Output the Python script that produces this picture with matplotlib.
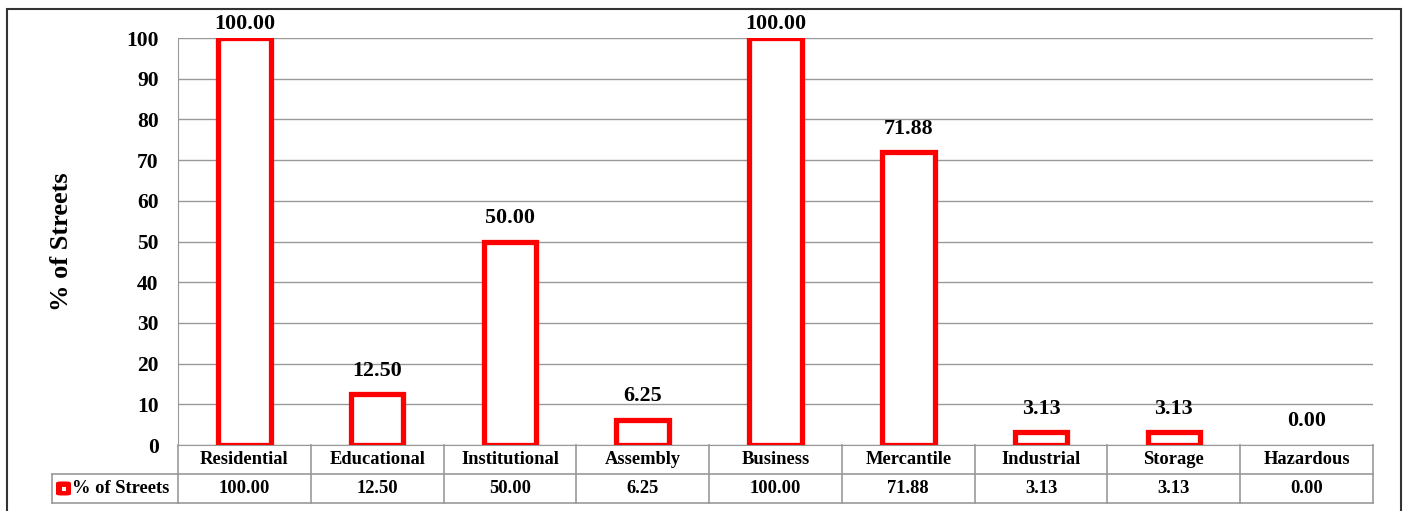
import matplotlib.pyplot as plt
from matplotlib.patches import Rectangle, FancyBboxPatch
from matplotlib.lines import Line2D
import numpy as np

categories = ['Residential', 'Educational', 'Institutional', 'Assembly', 'Business',
              'Mercantile', 'Industrial', 'Storage', 'Hazardous']
pct_streets = [100.00, 12.50, 50.00, 6.25, 100.00, 71.88, 3.13, 3.13, 0.00]
series_name = '% of Streets'
yticks = [0, 10, 20, 30, 40, 50, 60, 70, 80, 90, 100]

plt.rcParams['font.family'] = ['Liberation Serif', 'DejaVu Serif']
plt.rcParams['font.weight'] = 'bold'

W, H = 1405, 511
fig = plt.figure(figsize=(W / 100, H / 100), dpi=100)

# outer frame
fig.add_artist(Rectangle((7 / W, -0.05), (1401 - 7) / W, 1.05 - 9 / H, transform=fig.transFigure,
                         fill=False, edgecolor='#333333', lw=1.5))

x0, x1, y0, y1 = 178, 1373, 445, 38
ax = fig.add_axes([x0 / W, 1 - y0 / H, (x1 - x0) / W, (y0 - y1) / H])

n = len(categories)
x = np.arange(n)
edges = ['#ff0000' if v > 0 else 'none' for v in pct_streets]
ax.bar(x, pct_streets, width=0.395, facecolor='white', edgecolor=edges, lw=3.8, zorder=3)
for xi, v in zip(x, pct_streets):
    off = 10 if v >= 100 else 17
    ax.annotate(f'{v:.2f}', (xi, v), xytext=(0, off), textcoords='offset points',
                ha='center', va='center', fontsize=15.8, fontweight='bold')

ax.set_xlim(-0.5, n - 0.5)
ax.set_ylim(0, 100)
ax.set_yticks(yticks)
ax.set_yticklabels([str(t) for t in yticks], fontsize=15.5, fontweight='bold')
ax.tick_params(axis='y', length=0, pad=14)
ax.set_xticks([])
ax.grid(axis='y', color='#999999', lw=1)
ax.set_axisbelow(True)
for s in ['top', 'right']:
    ax.spines[s].set_visible(False)
ax.spines['left'].set_color('#999999')
ax.spines['bottom'].set_color('#999999')
ax.set_ylabel(series_name, fontsize=19, fontweight='bold', labelpad=38)

# data table below the axes
ph = y0 - y1
pw = x1 - x0
row_h = 29 / ph
grey = '#999999'
tr = ax.transAxes
def frac(px):
    return (px - x0) / pw
lines = []
lines.append(([0, 1], [-row_h, -row_h]))
lines.append(([0, 1], [-2 * row_h, -2 * row_h]))
lines.append(([frac(52), 0], [-row_h, -row_h]))
lines.append(([frac(52), 0], [-2 * row_h, -2 * row_h]))
lines.append(([frac(52), frac(52)], [-row_h, -2 * row_h]))
for i in range(n + 1):
    xf = i / n
    lines.append(([xf, xf], [0, -2 * row_h]))
for xs, ys in lines:
    ax.add_line(Line2D(xs, ys, transform=tr, color=grey, lw=1.2, clip_on=False))

for i, (c, v) in enumerate(zip(categories, pct_streets)):
    xc = (i + 0.5) / n
    ax.text(xc, -0.5 * row_h, c, transform=tr, ha='center', va='center', fontsize=13.3, fontweight='bold')
    ax.text(xc, -1.5 * row_h, f'{v:.2f}', transform=tr, ha='center', va='center', fontsize=13.3, fontweight='bold')

# legend key in table
ky = -1.5 * row_h
ax.add_patch(FancyBboxPatch((frac(56), ky - 7 / ph), 15 / pw, 14 / ph,
                            boxstyle='round,pad=0,rounding_size=0.004', transform=tr,
                            facecolor='#ff0000', edgecolor='none', clip_on=False))
ax.add_patch(Rectangle((frac(61.5), ky - 2 / ph), 4 / pw, 4 / ph, transform=tr,
                       facecolor='white', edgecolor='none', clip_on=False))
ax.text(frac(72), ky, series_name, transform=tr, ha='left', va='center',
        fontsize=13.3, fontweight='bold')

fig.savefig('out.png', dpi=100)
